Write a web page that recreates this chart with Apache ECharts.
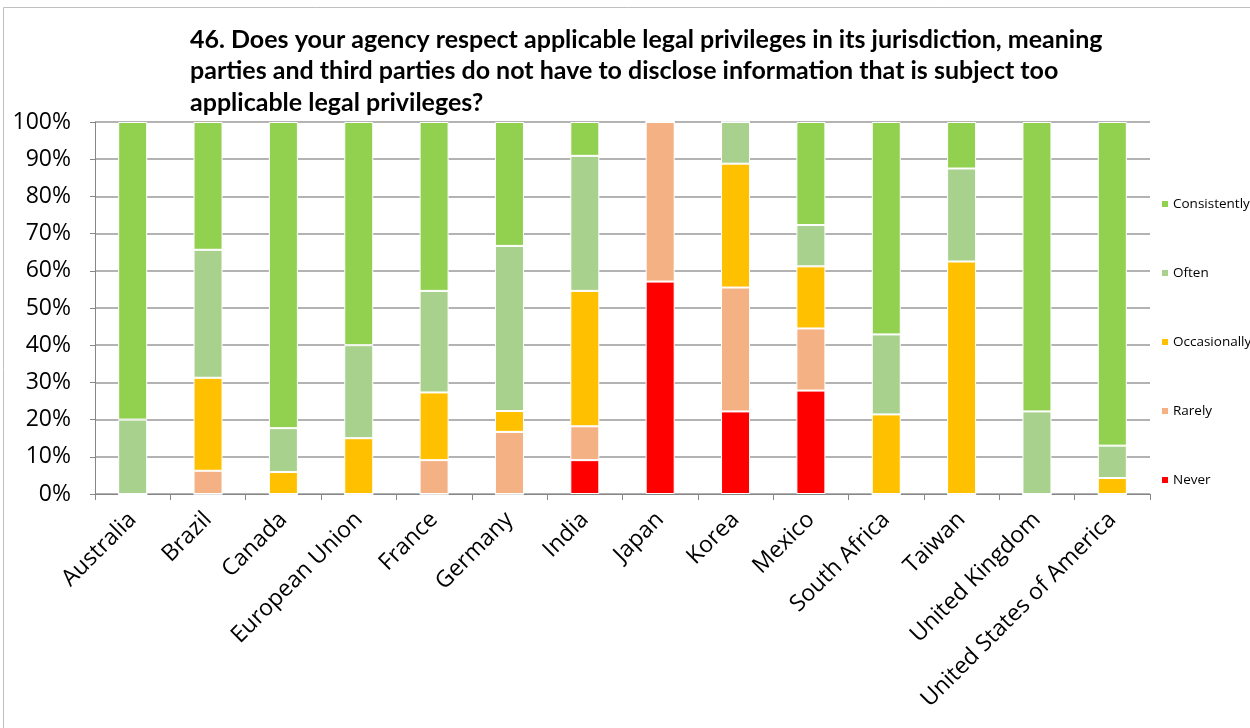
<!DOCTYPE html>
<html>
<head>
<meta charset="utf-8">
<script src="https://cdn.jsdelivr.net/npm/echarts@6/dist/echarts.min.js"></script>
<style>html,body{margin:0;padding:0;background:#fff}#c{width:1250px;height:728px}</style>
</head>
<body>
<div id="c"></div>
<script>
const categories = ["Australia","Brazil","Canada","European Union","France","Germany","India","Japan","Korea","Mexico","South Africa","Taiwan","United Kingdom","United States of America"];
const never        = [0, 0, 0, 0, 0, 0, 9.1, 57.1, 22.2, 27.8, 0, 0, 0, 0];
const rarely       = [0, 6.25, 0, 0, 9.1, 16.7, 9.1, 42.9, 33.3, 16.7, 0, 0, 0, 0];
const occasionally = [0, 25, 5.9, 15, 18.2, 5.6, 36.4, 0, 33.3, 16.7, 21.4, 62.5, 0, 4.3];
const often        = [20, 34.4, 11.8, 25, 27.3, 44.4, 36.3, 0, 11.2, 11.1, 21.5, 25, 22.2, 8.7];
const consistently = [80, 34.35, 82.3, 60, 45.4, 33.3, 9.1, 0, 0, 27.7, 57.1, 12.5, 77.8, 87.0];
const yTicks = [0,10,20,30,40,50,60,70,80,90,100];
const titleText = "46. Does your agency respect applicable legal privileges in its jurisdiction, meaning\nparties and third parties do not have to disclose information that is subject too\napplicable legal privileges?";

const FONT = '"Open Sans"';
const TFONT = 'Lato';
const colors = {Never:'#FF0000', Rarely:'#F4B183', Occasionally:'#FFC000', Often:'#A9D18E', Consistently:'#92D050'};
const seriesDefs = [['Never', never], ['Rarely', rarely], ['Occasionally', occasionally], ['Often', often], ['Consistently', consistently]];

const chart = echarts.init(document.getElementById('c'), null, {renderer:'canvas'});
chart.setOption({
  animation: false,
  backgroundColor: '#fff',
  textStyle: {fontFamily: FONT},
  graphic: [{type:'rect', shape:{x:3.5, y:7.5, width:1300, height:800}, style:{fill:'none', stroke:'#bfbfbf', lineWidth:1}, silent:true}],
  title: {
    text: titleText, left: 185, top: 19,
    textStyle: {fontFamily: TFONT, fontWeight: 'bold', fontSize: 25, color: '#000', lineHeight: 31.5}
  },
  legend: {
    orient: 'vertical', left: 1155, top: 192, itemGap: 55,
    data: ['Consistently','Often','Occasionally','Rarely','Never'],
    icon: 'rect', itemWidth: 8, itemHeight: 8,
    textStyle: {fontFamily: FONT, fontSize: 13.5, color: '#000', padding:[0,0,0,-1]}
  },
  grid: {left: 95, right: 100, top: 122, bottom: 234, containLabel: false},
  xAxis: {
    type: 'category', data: categories,
    axisLine: {lineStyle: {color: '#868686', width: 1}},
    axisTick: {show: true, length: 6, lineStyle: {color: '#868686'}},
    axisLabel: {rotate: 45, fontSize: 23, color: '#000', fontFamily: FONT, margin: 22, interval: 0}
  },
  yAxis: {
    type: 'value', min: 0, max: 100, interval: 10,
    axisLine: {show: true, lineStyle: {color: '#868686'}},
    axisTick: {show: true, length: 5, lineStyle: {color: '#868686'}},
    splitLine: {lineStyle: {color: '#9a9a9a', width: 1.5}},
    axisLabel: {fontSize: 23, color: '#000', fontFamily: FONT, margin: 24,
      formatter: v => yTicks.includes(v) ? v + '%' : ''}
  },
  series: seriesDefs.map(([name, data]) => ({
    name, type: 'bar', stack: 'total', data,
    barWidth: 29,
    itemStyle: {color: colors[name], borderColor: '#fff', borderWidth: 1}
  }))
});
</script>
</body>
</html>
